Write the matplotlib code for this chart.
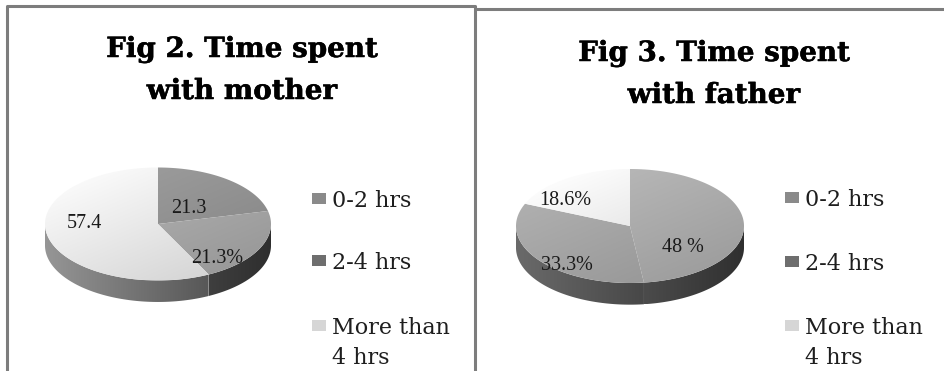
import numpy as np
import matplotlib.pyplot as plt
import matplotlib.patheffects as pe
from matplotlib.patches import Polygon, Rectangle

W, H = 944, 371

categories = ['0-2 hrs', '2-4 hrs', 'More than\n4 hrs']

mother_values = [21.3, 21.3, 57.4]
mother_labels = ['21.3', '21.3%', '57.4']
father_values = [48.0, 33.3, 18.6]
father_labels = ['48 %', '33.3%', '18.6%']

titles = [('Fig 2. Time spent', 'with mother'),
          ('Fig 3. Time spent', 'with father')]

# grey levels of the top faces, per pie
mother_tops = [0.56, 0.64, 0.89]
father_tops = [0.66, 0.63, 0.90]
legend_greys = [0.54, 0.43, 0.84]

fig = plt.figure(figsize=(W / 100, H / 100), dpi=100)
bg = fig.add_axes([0, 0, 1, 1])
bg.set_xlim(0, W)
bg.set_ylim(H, 0)
bg.axis('off')


def grey_img(v):
    v = np.clip(v, 0, 1)
    return np.dstack([v, v, v])


def fill_shaded(ax, xy, shade, z):
    patch = Polygon(xy, closed=True, fc='none', ec='none')
    ax.add_patch(patch)
    x0, y0 = xy.min(0)
    x1, y1 = xy.max(0)
    X, Y = np.meshgrid(np.linspace(x0, x1, 160), np.linspace(y0, y1, 80))
    im = ax.imshow(grey_img(shade(X, Y)), extent=(x0, x1, y0, y1), origin='lower',
                   aspect='auto', interpolation='bilinear', zorder=z)
    im.set_clip_path(patch)


def draw_pie(cx, cy, rx, values, labels, tops, label_xy, k=0.5, d=0.19):
    ax = fig.add_axes([(cx - 1.3 * rx) / W, (H - cy - 1.0 * rx) / H,
                       2.6 * rx / W, 2.0 * rx / H])
    ax.axis('off')
    total = sum(values)
    bounds = np.radians(90 - 360 * np.concatenate([[0], np.cumsum(values)]) / total)
    for i, c in enumerate(tops):
        th = np.linspace(bounds[i + 1], bounds[i], 300)
        arc = np.c_[np.cos(th), k * np.sin(th)]
        top = np.vstack([[0, 0], arc])
        fill_shaded(ax, top, lambda X, Y, c=c: c * (1.02 - 0.05 * X + 0.06 * Y / k), 3)
        # front rim: only the part of the arc facing the viewer
        front = np.sin(th) <= 0
        idx = np.flatnonzero(front)
        if len(idx) > 1:
            splits = np.flatnonzero(np.diff(idx) > 1) + 1
            for run in np.split(idx, splits):
                if len(run) < 2:
                    continue
                a = arc[run]
                side = np.vstack([a, (a - [0, d])[::-1]])
                fill_shaded(ax, side, lambda X, Y, c=c: c * (0.47 - 0.19 * X), 2)
    for (x, y), lab in zip(label_xy, labels):
        ax.text(x, y, lab, ha='center', va='baseline', fontsize=14.5,
                family='Liberation Serif', color='#1a1a1a', zorder=5)
    ax.set_xlim(-1.3, 1.3)
    ax.set_ylim(-1.0, 1.0)


def draw_legend(x_text, baselines):
    for lab, g, yb in zip(categories, legend_greys, baselines):
        bg.add_patch(Rectangle((x_text - 20, yb - 14), 14, 11,
                               fc=(g, g, g), ec='none'))
        for j, line in enumerate(lab.split('\n')):
            bg.text(x_text, yb + 30 * j, line, ha='left', va='baseline',
                    fontsize=16, family='DejaVu Serif', color='#1e1e1e')


# panel frames
frame = dict(color='#7d7d7d', lw=2.2, solid_capstyle='butt')
bg.plot([7, 7, 475, 475], [H, 6, 6, H], **frame)
bg.plot([475, W], [9, 9], **frame)

# titles
heavy = [pe.withStroke(linewidth=0.35, foreground='black')]
for (l1, l2), xc, yb in zip(titles, [242, 714], [57, 61]):
    for j, line in enumerate((l1, l2)):
        bg.text(xc, yb + 42 * j, line, ha='center', va='baseline', fontsize=20,
                fontweight='bold', family='DejaVu Serif', color='black',
                path_effects=heavy)

draw_pie(158, 224, 113, mother_values, mother_labels, mother_tops,
         [(0.27, 0.10), (0.52, -0.345), (-0.65, -0.035)])
draw_pie(630, 226, 114, father_values, father_labels, father_tops,
         [(0.46, -0.23), (-0.55, -0.39), (-0.57, 0.185)])

draw_legend(332, [207, 269, 334])
draw_legend(805, [206, 270, 334])

fig.savefig('out.png', dpi=100)
